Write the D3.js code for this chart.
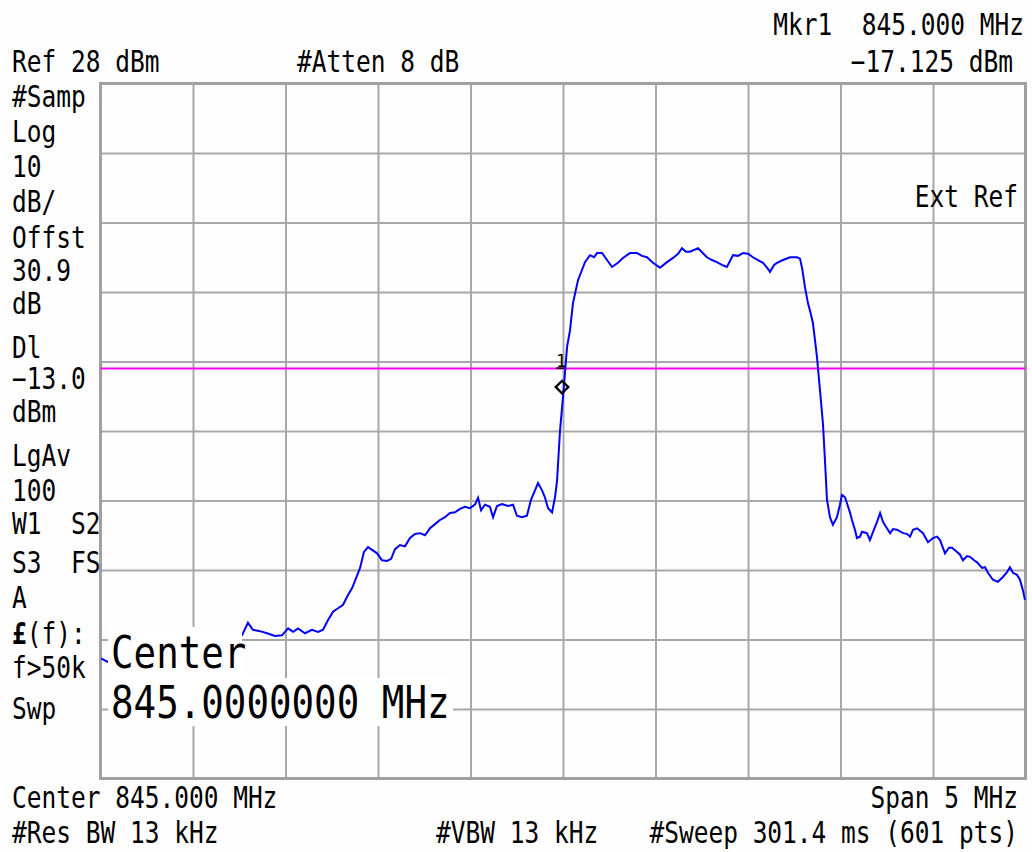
<!DOCTYPE html>
<html>
<head>
<meta charset="utf-8">
<script src="https://cdn.jsdelivr.net/npm/d3@7"></script>
<style>
  body { margin: 0; background: #fff; }
  svg text { font-family: "DejaVu Sans Mono", "Liberation Mono", monospace; fill: #000; white-space: pre; }
</style>
</head>
<body>
<script>
var W = 1032, H = 852;

// sweep settings
var startMHz = 842.5, stopMHz = 847.5;
var refDbm = 28, bottomDbm = -72;
var displayLineDbm = -13.0;
var markerMHz = 845.0, markerDbm = -17.125;

var xGridTicks = [843, 843.5, 844, 844.5, 845, 845.5, 846, 846.5, 847];
var yGridTicks = [18, 8, -2, -12, -22, -32, -42, -52, -62];

// trace
var freqMHz = [
  842.503, 842.530, 842.557, 842.650, 842.750, 842.850, 842.950, 843.050, 843.150, 843.230,
  843.265, 843.297, 843.324, 843.362, 843.400, 843.443, 843.481, 843.514, 843.541, 843.568,
  843.605, 843.643, 843.676, 843.703, 843.730, 843.757, 843.784, 843.811, 843.838, 843.860,
  843.881, 843.903, 843.924, 843.946, 843.968, 843.995, 844.022, 844.049, 844.071, 844.092,
  844.119, 844.146, 844.173, 844.200, 844.227, 844.254, 844.281, 844.308, 844.335, 844.362,
  844.389, 844.416, 844.443, 844.470, 844.497, 844.524, 844.541, 844.557, 844.578, 844.605,
  844.622, 844.643, 844.670, 844.703, 844.730, 844.751, 844.778, 844.805, 844.827, 844.849,
  844.865, 844.886, 844.903, 844.919, 844.941, 844.957, 844.968, 844.984, 845.000, 845.022,
  845.038, 845.054, 845.081, 845.103, 845.119, 845.146, 845.168, 845.184, 845.211, 845.238,
  845.265, 845.297, 845.324, 845.362, 845.400, 845.427, 845.454, 845.486, 845.524, 845.562,
  845.595, 845.622, 845.643, 845.665, 845.686, 845.730, 845.778, 845.805, 845.832, 845.859,
  845.886, 845.919, 845.946, 845.973, 846.000, 846.027, 846.054, 846.081, 846.103, 846.119,
  846.141, 846.157, 846.189, 846.227, 846.265, 846.281, 846.292, 846.308, 846.324, 846.341,
  846.351, 846.362, 846.373, 846.389, 846.405, 846.416, 846.427, 846.443, 846.459, 846.481,
  846.497, 846.508, 846.524, 846.535, 846.551, 846.562, 846.578, 846.589, 846.605, 846.616,
  846.643, 846.659, 846.676, 846.697, 846.714, 846.730, 846.751, 846.768, 846.784, 846.805,
  846.838, 846.859, 846.876, 846.892, 846.914, 846.946, 846.973, 847.000, 847.022, 847.038,
  847.065, 847.086, 847.103, 847.130, 847.146, 847.162, 847.184, 847.200, 847.222, 847.238,
  847.265, 847.281, 847.297, 847.324, 847.351, 847.378, 847.400, 847.416, 847.432, 847.454,
  847.470, 847.486, 847.497
];
var levelDbm = [
  -54.7, -55.1, -55.4, -54.6, -54.0, -53.4, -53.0, -52.6, -52.2, -51.8,
  -51.4, -49.6, -50.6, -50.8, -51.1, -51.5, -51.4, -50.4, -50.9, -50.4,
  -51.1, -50.6, -50.9, -50.6, -49.2, -48.0, -47.5, -47.0, -45.6, -44.6,
  -43.2, -41.7, -39.4, -38.7, -39.1, -39.6, -40.6, -40.7, -40.4, -39.0,
  -38.4, -38.6, -37.4, -36.8, -36.7, -37.0, -36.0, -35.4, -34.8, -34.4,
  -33.8, -33.7, -33.2, -32.9, -33.1, -32.6, -31.6, -33.4, -32.6, -32.9,
  -34.4, -32.8, -32.5, -32.8, -32.6, -34.2, -34.4, -34.2, -31.9, -30.5,
  -29.5, -30.5, -31.6, -33.1, -33.7, -31.5, -29.1, -21.9, -17.1, -9.9,
  -7.5, -3.6, -0.3, 1.2, 2.3, 3.3, 3.0, 3.6, 3.6, 2.6,
  1.6, 2.2, 2.9, 3.6, 3.6, 3.2, 3.0, 2.2, 1.5, 2.3,
  2.9, 3.5, 4.3, 3.8, 3.8, 4.3, 3.0, 2.6, 2.3, 1.9,
  1.6, 3.3, 3.2, 3.6, 3.5, 3.0, 2.6, 2.2, 1.5, 0.9,
  1.9, 2.2, 2.6, 3.0, 3.0, 2.8, 1.5, -1.3, -3.6, -5.3,
  -6.5, -8.9, -11.4, -16.1, -20.9, -26.2, -31.9, -34.4, -35.5, -34.4,
  -32.6, -31.2, -31.5, -32.4, -33.7, -34.8, -36.2, -37.4, -37.2, -36.5,
  -36.7, -37.7, -36.5, -35.1, -33.8, -35.1, -36.0, -36.7, -36.1, -36.2,
  -36.7, -36.8, -37.2, -36.2, -36.0, -36.7, -38.0, -37.4, -37.2, -37.7,
  -39.6, -38.8, -38.8, -39.4, -39.8, -40.6, -40.0, -40.1, -40.6, -40.9,
  -41.7, -41.6, -42.4, -43.4, -43.7, -43.0, -42.3, -41.6, -42.4, -42.7,
  -43.4, -44.9, -46.3
];

// annotation text
var sideLabels = ["#Samp", "Log", "10", "dB/", "Offst", "30.9", "dB", "Dl", "\u221213.0", "dBm",
                  "LgAv", "100", "W1  S2", "S3  FS", "A", "\u00a3(f):", "f>50k", "Swp"];
var sideBaselines = [107, 142, 177, 212, 248, 281, 314, 358, 389, 422, 466, 501, 534, 573, 608, 644, 678, 719];
var headerLeft = ["Ref 28 dBm", "#Atten 8 dB"];
var markerText = ["Mkr1  845.000 MHz", "\u221217.125 dBm"];
var footerLeft = ["Center 845.000 MHz", "#Res BW 13 kHz"];
var footerRight = ["Span 5 MHz", "#Sweep 301.4 ms (601 pts)"];
var vbwText = "#VBW 13 kHz";
var bigCenter = ["Center", "845.0000000 MHz"];

var plotL = 100.5, plotR = 1025.5, plotT = 83.5, plotB = 778.5;

var svg = d3.select("body").append("svg")
    .attr("width", W)
    .attr("height", H)
    .style("display", "block");

svg.append("rect").attr("width", W).attr("height", H).attr("fill", "#fefefe");

var x = d3.scaleLinear().domain([startMHz, stopMHz]).range([plotL, plotR]);
var y = d3.scaleLinear().domain([bottomDbm, refDbm]).range([plotB, plotT]);

// graticule
var gx = svg.append("g")
    .attr("transform", "translate(0," + plotB + ")")
    .call(d3.axisBottom(x).tickValues(xGridTicks).tickSize(-(plotB - plotT)).tickFormat(""));
var gy = svg.append("g")
    .attr("transform", "translate(" + plotL + ",0)")
    .call(d3.axisLeft(y).tickValues(yGridTicks).tickSize(-(plotR - plotL)).tickFormat(""));
[gx, gy].forEach(g => {
    g.select(".domain").remove();
    g.selectAll(".tick line").attr("stroke", "#a8a8a8").attr("stroke-width", 2);
});

svg.append("rect")
    .attr("x", plotL).attr("y", plotT)
    .attr("width", plotR - plotL).attr("height", plotB - plotT)
    .attr("fill", "none").attr("stroke", "#a0a0a0").attr("stroke-width", 3);

// display line
svg.append("line")
    .attr("x1", plotL).attr("x2", plotR)
    .attr("y1", y(displayLineDbm)).attr("y2", y(displayLineDbm))
    .attr("stroke", "#ff00ff").attr("stroke-width", 2);

// trace
var trace = freqMHz.map((f, i) => ({f: f, v: levelDbm[i]}));
var line = d3.line().x(d => x(d.f)).y(d => y(d.v));
svg.append("path")
    .datum(trace)
    .attr("d", line)
    .attr("fill", "none")
    .attr("stroke", "#0000ff")
    .attr("stroke-width", 2)
    .attr("stroke-linejoin", "miter");

// marker
var mx = x(markerMHz), my = y(markerDbm);
svg.append("path")
    .attr("d", d3.symbol(d3.symbolSquare, 78)())
    .attr("transform", "translate(" + (mx - 1) + "," + (my - 10) + ") rotate(45)")
    .attr("fill", "none").attr("stroke", "#000").attr("stroke-width", 2.4);
svg.append("text")
    .attr("transform", "translate(" + (mx - 2) + "," + (my - 30) + ")")
    .attr("text-anchor", "middle")
    .style("font-size", "17px")
    .text("1");
svg.append("line")
    .attr("x1", mx - 7).attr("x2", mx + 2)
    .attr("y1", my - 29).attr("y2", my - 29)
    .attr("stroke", "#000").attr("stroke-width", 1.5);

// text helper: the analyzer font is tall and narrow
function label(txt, px, py, anchor, size) {
    return svg.append("text")
        .attr("transform", "translate(" + px + "," + py + ") scale(1,1.2)")
        .attr("text-anchor", anchor || "start")
        .style("font-size", (size || 24.5) + "px")
        .text(txt);
}

label(headerLeft[0], 12, 72);
label(headerLeft[1], 297, 72);
label(markerText[0], 1024, 35, "end");
label(markerText[1], 1013, 72, "end");
label("Ext Ref", 1018, 207, "end");

sideLabels.forEach((s, i) => {
    var t = label(s, 12, sideBaselines[i]);
    if (s.charAt(0) === "\u00a3") {
        t.text("");
        t.append("tspan").style("font-weight", "bold").text("\u00a3");
        t.append("tspan").text(s.slice(1));
    }
});

label(footerLeft[0], 12, 808);
label(footerLeft[1], 12, 843);
label(footerRight[0], 1018, 808, "end");
label(vbwText, 436, 843);
label(footerRight[1], 1018, 843, "end");

// large center frequency readout, drawn over the trace
svg.append("rect").attr("x", 108).attr("y", 627).attr("width", 134).attr("height", 51).attr("fill", "#fff");
svg.append("rect").attr("x", 108).attr("y", 678).attr("width", 345).attr("height", 48).attr("fill", "#fff");
label(bigCenter[0], 111, 668, "start", 37.5);
label(bigCenter[1], 111, 718, "start", 37.5);
</script>
</body>
</html>
